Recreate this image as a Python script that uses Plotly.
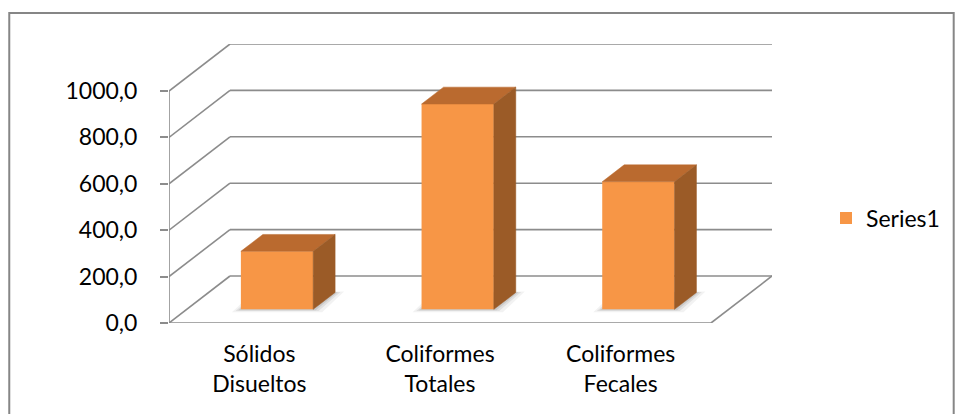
import plotly.graph_objects as go

# ---- data -------------------------------------------------------------
categories = ["Sólidos<br>Disueltos", "Coliformes<br>Totales", "Coliformes<br>Fecales"]
values = [250.0, 885.0, 550.0]
y_tick_values = [0, 200, 400, 600, 800, 1000]
y_tick_labels = ["0,0", "200,0", "400,0", "600,0", "800,0", "1000,0"]
series_name = "Series1"

# ---- geometry of the pseudo-3D box -------------------------------------
FIG_W, FIG_H = 956, 414
M_L, M_R, M_T, M_B = 169, 183, 44, 91
DEPTH_X = 0.3376          # depth offset of the back wall, in category units
DEPTH_Y = 202.6           # depth offset of the back wall, in value units
BAR_W = 0.40              # bar width, in category units
BAR_Z0 = 0.29             # front of the bars, as a fraction of the depth
BAR_DZ = 0.36             # bar thickness, as a fraction of the depth

n = len(categories)
X_MIN, X_MAX = -0.5, n - 0.5 + DEPTH_X
Y_MIN, Y_MAX = 0, y_tick_values[-1] + DEPTH_Y

FRONT = "#F79646"
TOP = "#BA6A2F"
SIDE = "#9B5B27"
GRID = "#8C8C8C"
FONT = "Lato"


def paper_x(px):
    return (px - M_L) / (FIG_W - M_L - M_R)


def paper_y(py):
    return (FIG_H - M_B - py) / (FIG_H - M_T - M_B)


def line(x0, y0, x1, y1, **kw):
    d = dict(type="line", xref="x", yref="y", x0=x0, y0=y0, x1=x1, y1=y1,
             line=dict(color=GRID, width=1.6), layer="below")
    d.update(kw)
    return d


def poly(pts):
    return "M " + " L ".join(f"{x},{y}" for x, y in pts) + " Z"


shapes = []

# chart-area border
shapes.append(dict(type="rect", xref="paper", yref="paper",
                   x0=paper_x(9), x1=paper_x(955), y0=paper_y(13), y1=paper_y(420),
                   line=dict(color="#868686", width=2), fillcolor="rgba(0,0,0,0)",
                   layer="below"))

# side wall diagonals and back wall gridlines
bx0 = X_MIN + DEPTH_X
bx1 = X_MIN + n + DEPTH_X
for v in y_tick_values:
    shapes.append(line(X_MIN, v, bx0, v + DEPTH_Y))
    shapes.append(line(bx0, v + DEPTH_Y, bx1, v + DEPTH_Y))

# floor front edge and right edge, front value axis
shapes.append(line(X_MIN, 0, X_MIN + n, 0))
shapes.append(line(X_MIN + n, 0, bx1, DEPTH_Y))
shapes.append(line(X_MIN, 0, X_MIN, y_tick_values[-1]))

# category boundary ticks
for k in range(n + 1):
    shapes.append(dict(type="line", xref="x", yref="y", x0=X_MIN + k, x1=X_MIN + k,
                       ysizemode="pixel", yanchor=0, y0=0, y1=-8,
                       line=dict(color=GRID, width=1.6), layer="below"))

# soft shadows on the floor under each bar
zx0, zy0 = BAR_Z0 * DEPTH_X, BAR_Z0 * DEPTH_Y
ddx, ddy = BAR_DZ * DEPTH_X, BAR_DZ * DEPTH_Y
for i in range(n):
    xl = i + zx0 - BAR_W / 2
    xr = i + zx0 + BAR_W / 2
    for grow, alpha in [(0.05, 0.05), (0.03, 0.07), (0.015, 0.09)]:
        gy = grow * 250
        pts = [(xl - grow, zy0 - gy), (xr + grow, zy0 - gy),
               (xr + ddx + grow, zy0 + ddy + gy * 0.3), (xl + ddx - grow, zy0 + ddy + gy * 0.3)]
        shapes.append(dict(type="path", xref="x", yref="y", path=poly(pts),
                           fillcolor=f"rgba(0,0,0,{alpha})", line=dict(width=0),
                           layer="below"))

fig = go.Figure()

# front faces of the columns
fig.add_trace(go.Bar(
    x=[i + zx0 for i in range(n)], y=values, base=[zy0] * n, width=BAR_W,
    marker=dict(color=FRONT, line=dict(width=0)), name=series_name,
    hoverinfo="skip"))

# top and side faces of the columns
for i, v in enumerate(values):
    xl = i + zx0 - BAR_W / 2
    xr = i + zx0 + BAR_W / 2
    top = zy0 + v
    tx = [xl, xr, xr + ddx, xl + ddx, xl]
    ty = [top, top, top + ddy, top + ddy, top]
    fig.add_trace(go.Scatter(x=tx, y=ty, mode="lines", fill="toself",
                             fillcolor=TOP, line=dict(color=TOP, width=0.5),
                             showlegend=False, hoverinfo="skip"))
    sx = [xr, xr + ddx, xr + ddx, xr, xr]
    sy = [zy0, zy0 + ddy, top + ddy, top, zy0]
    fig.add_trace(go.Scatter(x=sx, y=sy, mode="lines", fill="toself",
                             fillcolor=SIDE, line=dict(color=SIDE, width=0.5),
                             showlegend=False, hoverinfo="skip"))

fig.update_layout(
    width=FIG_W, height=FIG_H,
    margin=dict(l=M_L, r=M_R, t=M_T, b=M_B, pad=0),
    paper_bgcolor="white", plot_bgcolor="white",
    font=dict(family=FONT, size=23, color="#000000"),
    shapes=shapes,
    showlegend=True,
    legend=dict(x=paper_x(826), y=paper_y(218), xanchor="left", yanchor="middle",
                font=dict(family=FONT, size=23, color="#000000"),
                bgcolor="rgba(0,0,0,0)"),
    xaxis=dict(range=[X_MIN, X_MAX], tickvals=list(range(n)), ticktext=categories,
               ticks="", showgrid=False, zeroline=False, showline=False,
               ticklabelstandoff=15, fixedrange=True),
    yaxis=dict(range=[Y_MIN, Y_MAX], tickvals=y_tick_values, ticktext=y_tick_labels,
               ticks="outside", ticklen=8, tickcolor=GRID, tickwidth=1.6,
               showgrid=False, zeroline=False, showline=False,
               ticklabelstandoff=18, fixedrange=True),
)

fig.write_html("out.html")
